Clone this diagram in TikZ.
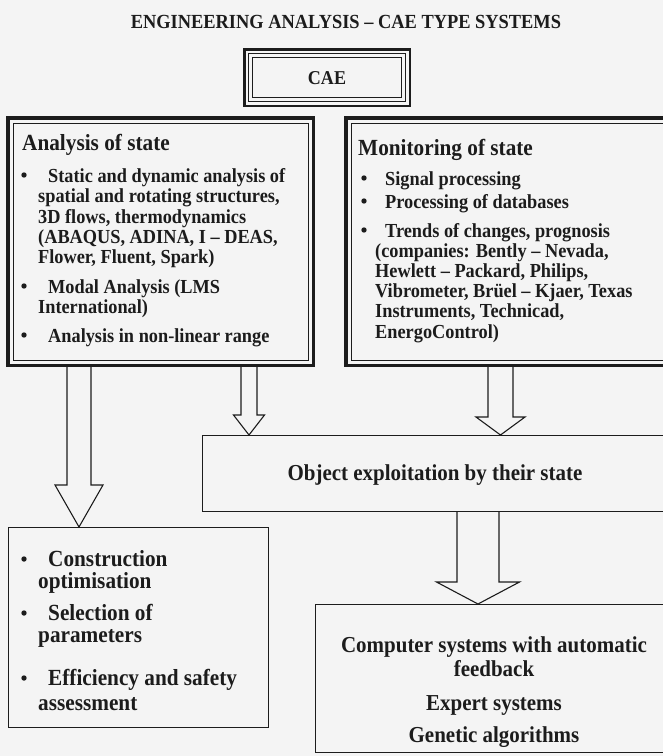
\documentclass[tikz,border=0pt]{standalone}
\usepackage{fontspec}
\setmainfont{Liberation Serif}[FakeStretch=0.92]
\usetikzlibrary{calc}
\definecolor{paper}{RGB}{244,244,244}
\definecolor{ink}{RGB}{28,28,28}
\newcommand\bframe[3]{\draw[ink,line width=#3] ([shift={(#2,#2)}]#1.north west) rectangle ([shift={(-#2,-#2)}]#1.south east);}
% source, target, x, shaft half width, head half width, head length
\newcommand\blockarrow[6]{%
  \coordinate (bx) at (#3,0);
  \draw[barrow] ($(bx|-#1.south)+(-#4,0)$) -- ($(bx|-#2.north)+(-#4,-#6)$) -- ($(bx|-#2.north)+(-#5,-#6)$) -- (bx|-#2.north) -- ($(bx|-#2.north)+(#5,-#6)$) -- ($(bx|-#2.north)+(#4,-#6)$) -- ($(bx|-#1.south)+(#4,0)$);}
\tikzset{
  region/.style={inner sep=0pt, outer sep=0pt, draw=none},
  hd/.style={anchor=base west, inner sep=0pt, text=ink, font=\fontsize{23.1}{26}\selectfont\bfseries},
  tx/.style={anchor=base west, inner sep=0pt, text=ink, font=\fontsize{19.9}{22}\selectfont\bfseries},
  tl/.style={anchor=base west, inner sep=0pt, text=ink, font=\fontsize{23.1}{26}\selectfont\bfseries},
  tc/.style={anchor=base, inner sep=0pt, text=ink, font=\fontsize{22.8}{26}\selectfont\bfseries},
  ttl/.style={anchor=base, inner sep=0pt, text=ink, font=\fontsize{20}{24}\selectfont\bfseries},
  bul/.style={circle, fill=ink, inner sep=0pt, minimum size=5.4pt},
  barrow/.style={draw=ink, line width=1.1pt},
}
\begin{document}
\begin{tikzpicture}[x=1pt,y=-1pt]
\fill[paper] (0,0) rectangle (663,756);
\useasboundingbox (0,0) rectangle (663,756);
\clip (0,0) rectangle (663,756);

% regions
\node[region, minimum width=168pt, minimum height=59pt] (cae) at (327,77.5) {};
\node[region, minimum width=309pt, minimum height=251pt] (ana) at (160.5,241.5) {};
\node[region, minimum width=330pt, minimum height=251pt] (mon) at (509,241.5) {};
\node[region, minimum width=472pt, minimum height=77pt] (obj) at (438,473.5) {};
\node[region, minimum width=261pt, minimum height=201pt] (con) at (138.5,627.5) {};
\node[region, minimum width=359pt, minimum height=149pt] (comp) at (494.5,678.5) {};

% frames
\bframe{cae}{1.25}{2.5}
\bframe{cae}{5.5}{1.3}
\bframe{cae}{9.5}{1}
\bframe{ana}{1.75}{3.5}
\bframe{ana}{7}{1}
\bframe{mon}{1.75}{3.5}
\bframe{mon}{7}{1}
\bframe{obj}{0.6}{1.2}
\bframe{con}{0.6}{1.2}
\bframe{comp}{0.6}{1.2}

% arrows
\blockarrow{ana}{con}{79}{12}{24}{42}
\blockarrow{ana}{obj}{249}{8}{15.5}{20}
\blockarrow{mon}{obj}{500.5}{12.5}{24.5}{18}
\blockarrow{obj}{comp}{478}{21}{41.5}{22}

% title and CAE
\node[ttl] (title) at (346,28) {ENGINEERING ANALYSIS – CAE TYPE SYSTEMS};
\node[tc, font=\fontsize{19.6}{24}\selectfont\bfseries] (caet) at (327,84) {CAE};

% analysis of state
\node[hd] (ah) at (22,150) {Analysis of state};
\node[bul] (ab1) at (24,175) {};
\node[tx] (a1) at (48,182) {Static and dynamic analysis of};
\node[tx] (a2) at (38,202) {spatial and rotating structures,};
\node[tx] (a3) at (38,223) {3D flows, thermodynamics};
\node[tx] (a4) at (38,243) {(ABAQUS, ADINA, I – DEAS,};
\node[tx] (a5) at (38,263) {Flower, Fluent, Spark)};
\node[bul] (ab2) at (24,286) {};
\node[tx] (a6) at (48,293) {Modal Analysis (LMS};
\node[tx] (a7) at (38,313) {International)};
\node[bul] (ab3) at (24,335) {};
\node[tx] (a8) at (48,342) {Analysis in non-linear range};

% monitoring of state
\node[hd] (mh) at (358,155) {Monitoring of state};
\node[bul] (mb1) at (364,178) {};
\node[tx] (m1) at (385,185) {Signal processing};
\node[bul] (mb2) at (364,201) {};
\node[tx] (m2) at (385,208) {Processing of databases};
\node[bul] (mb3) at (364,230) {};
\node[tx] (m3) at (385,237) {Trends of changes, prognosis};
\node[tx] (m4) at (375,257) {(companies: Bently – Nevada,};
\node[tx] (m5) at (375,277) {Hewlett – Packard, Philips,};
\node[tx] (m6) at (375,297) {Vibrometer, Brüel – Kjaer, Texas};
\node[tx] (m7) at (375,317) {Instruments, Technicad,};
\node[tx] (m8) at (375,338) {EnergoControl)};

% object exploitation
\node[tc] (ot) at (435,480) {Object exploitation by their state};

% construction box
\node[bul] (cb1) at (24,559) {};
\node[tl] (c1) at (48,566) {Construction};
\node[tl] (c2) at (38,588) {optimisation};
\node[bul] (cb2) at (24,613) {};
\node[tl] (c3) at (48,620) {Selection of};
\node[tl] (c4) at (38,642) {parameters};
\node[bul] (cb3) at (24,678) {};
\node[tl] (c5) at (48,685) {Efficiency and safety};
\node[tl] (c6) at (38,710) {assessment};

% computer box
\node[tc] (k1) at (494,652) {Computer systems with automatic};
\node[tc] (k2) at (494,676) {feedback};
\node[tc] (k3) at (494,710) {Expert systems};
\node[tc] (k4) at (494,742) {Genetic algorithms};
\end{tikzpicture}
\end{document}
